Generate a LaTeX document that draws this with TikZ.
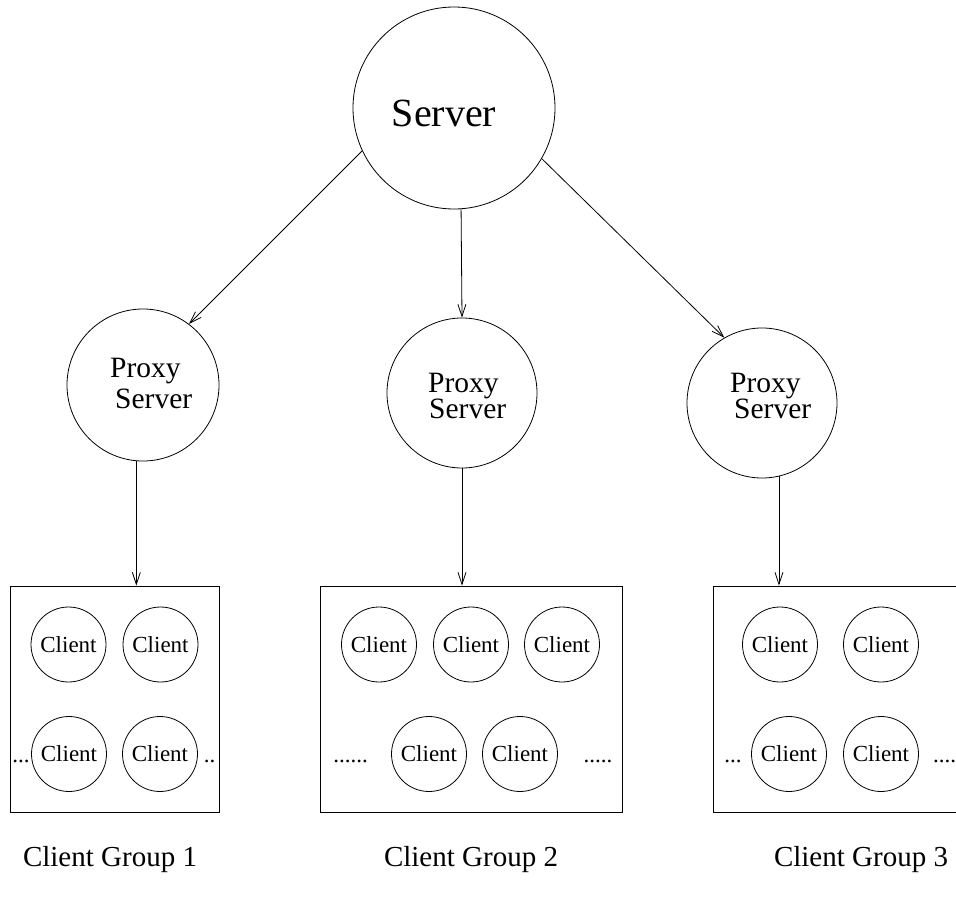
\documentclass[tikz,border=0pt]{standalone}
\usepackage{fontspec}
\setmainfont{Liberation Serif}
\usetikzlibrary{arrows.meta}
\begin{document}
\begin{tikzpicture}[x=1pt,y=-1pt,
  circ/.style={draw, circle, inner sep=0pt, line width=0.8pt},
  cli/.style={circ, minimum size=75pt, font=\fontsize{23}{26}\selectfont},
  grp/.style={draw, rectangle, inner sep=0pt, line width=0.9pt},
  arr/.style={line width=0.8pt, -{Straight Barb[length=12pt,width=8pt]}},
  bigtxt/.style={font=\fontsize{40}{44}\selectfont, anchor=base, inner sep=0pt},
  proxytxt/.style={align=left, anchor=west, inner sep=0pt},
  grptxt/.style={font=\fontsize{29}{32}\selectfont, anchor=base, inner sep=0pt},
  dotstxt/.style={font=\fontsize{23}{26}\selectfont, anchor=base, inner sep=0pt}]
\path[use as bounding box] (0,0) rectangle (956,907);
\clip (0,0) rectangle (956,907);

% server
\node[circ, minimum size=202pt] (server) at (454,108) {};
\node[bigtxt] (servertxt) at (444,126) {Server};

% proxies
\node[circ, minimum size=152pt] (p1) at (143,385) {};
\node[proxytxt, font=\fontsize{29.5}{31}\selectfont] (p1t) at (110,383) {Proxy\\\hspace*{5pt}Server};
\node[circ, minimum size=150pt] (p2) at (462,393) {};
\node[proxytxt, font=\fontsize{29.5}{26}\selectfont] (p2t) at (428,396) {Proxy\\\hspace*{1pt}Server};
\node[circ, minimum size=150pt] (p3) at (762,403) {};
\node[proxytxt, font=\fontsize{29.5}{25}\selectfont] (p3t) at (730,396) {Proxy\\\hspace*{4pt}Server};

% boxes
\node[grp, minimum width=209pt, minimum height=226pt] (b1) at (114.5,699) {};
\node[grp, minimum width=302pt, minimum height=226pt] (b2) at (471,699) {};
\node[grp, minimum width=252pt, minimum height=226pt] (b3) at (839,699) {};

% clients group 1
\node[cli] (c11) at (68.5,644.5) {Client};
\node[cli] (c12) at (160.5,644.5) {Client};
\node[cli] (c13) at (69,754) {Client};
\node[cli] (c14) at (160,754) {Client};
\node[dotstxt] (d11) at (21,762) {...};
\node[dotstxt] (d12) at (209.5,762) {..};

% clients group 2
\node[cli] (c21) at (379,644.5) {Client};
\node[cli] (c22) at (471,644.5) {Client};
\node[cli] (c23) at (562,644.5) {Client};
\node[cli] (c24) at (429,754) {Client};
\node[cli] (c25) at (520,754) {Client};
\node[dotstxt] (d21) at (350.5,762) {......};
\node[dotstxt] (d22) at (598,762) {.....};

% clients group 3
\node[cli] (c31) at (780,644.5) {Client};
\node[cli] (c32) at (881,644.5) {Client};
\node[cli] (c33) at (789,754) {Client};
\node[cli] (c34) at (881,754) {Client};
\node[dotstxt] (d31) at (733,762) {...};
\node[dotstxt] (d32) at (944.5,762) {....};

% group labels
\node[grptxt] (g1) at (110,866) {Client Group 1};
\node[grptxt] (g2) at (471,866) {Client Group 2};
\node[grptxt] (g3) at (861,866) {Client Group 3};

% connectors
\draw[arr] (server.205.6) -- (p1.53.5);
\draw[arr] (server.274.5) -- (p2.north);
\draw[arr] (server.330.7) -- (p3.120.5);
\draw[arr] (p1.265) -- (p1.265 |- b1.north);
\draw[arr] (p2.south) -- (p2.south |- b2.north);
\draw[arr] (p3.283.9) -- (p3.283.9 |- b3.north);
\end{tikzpicture}
\end{document}
